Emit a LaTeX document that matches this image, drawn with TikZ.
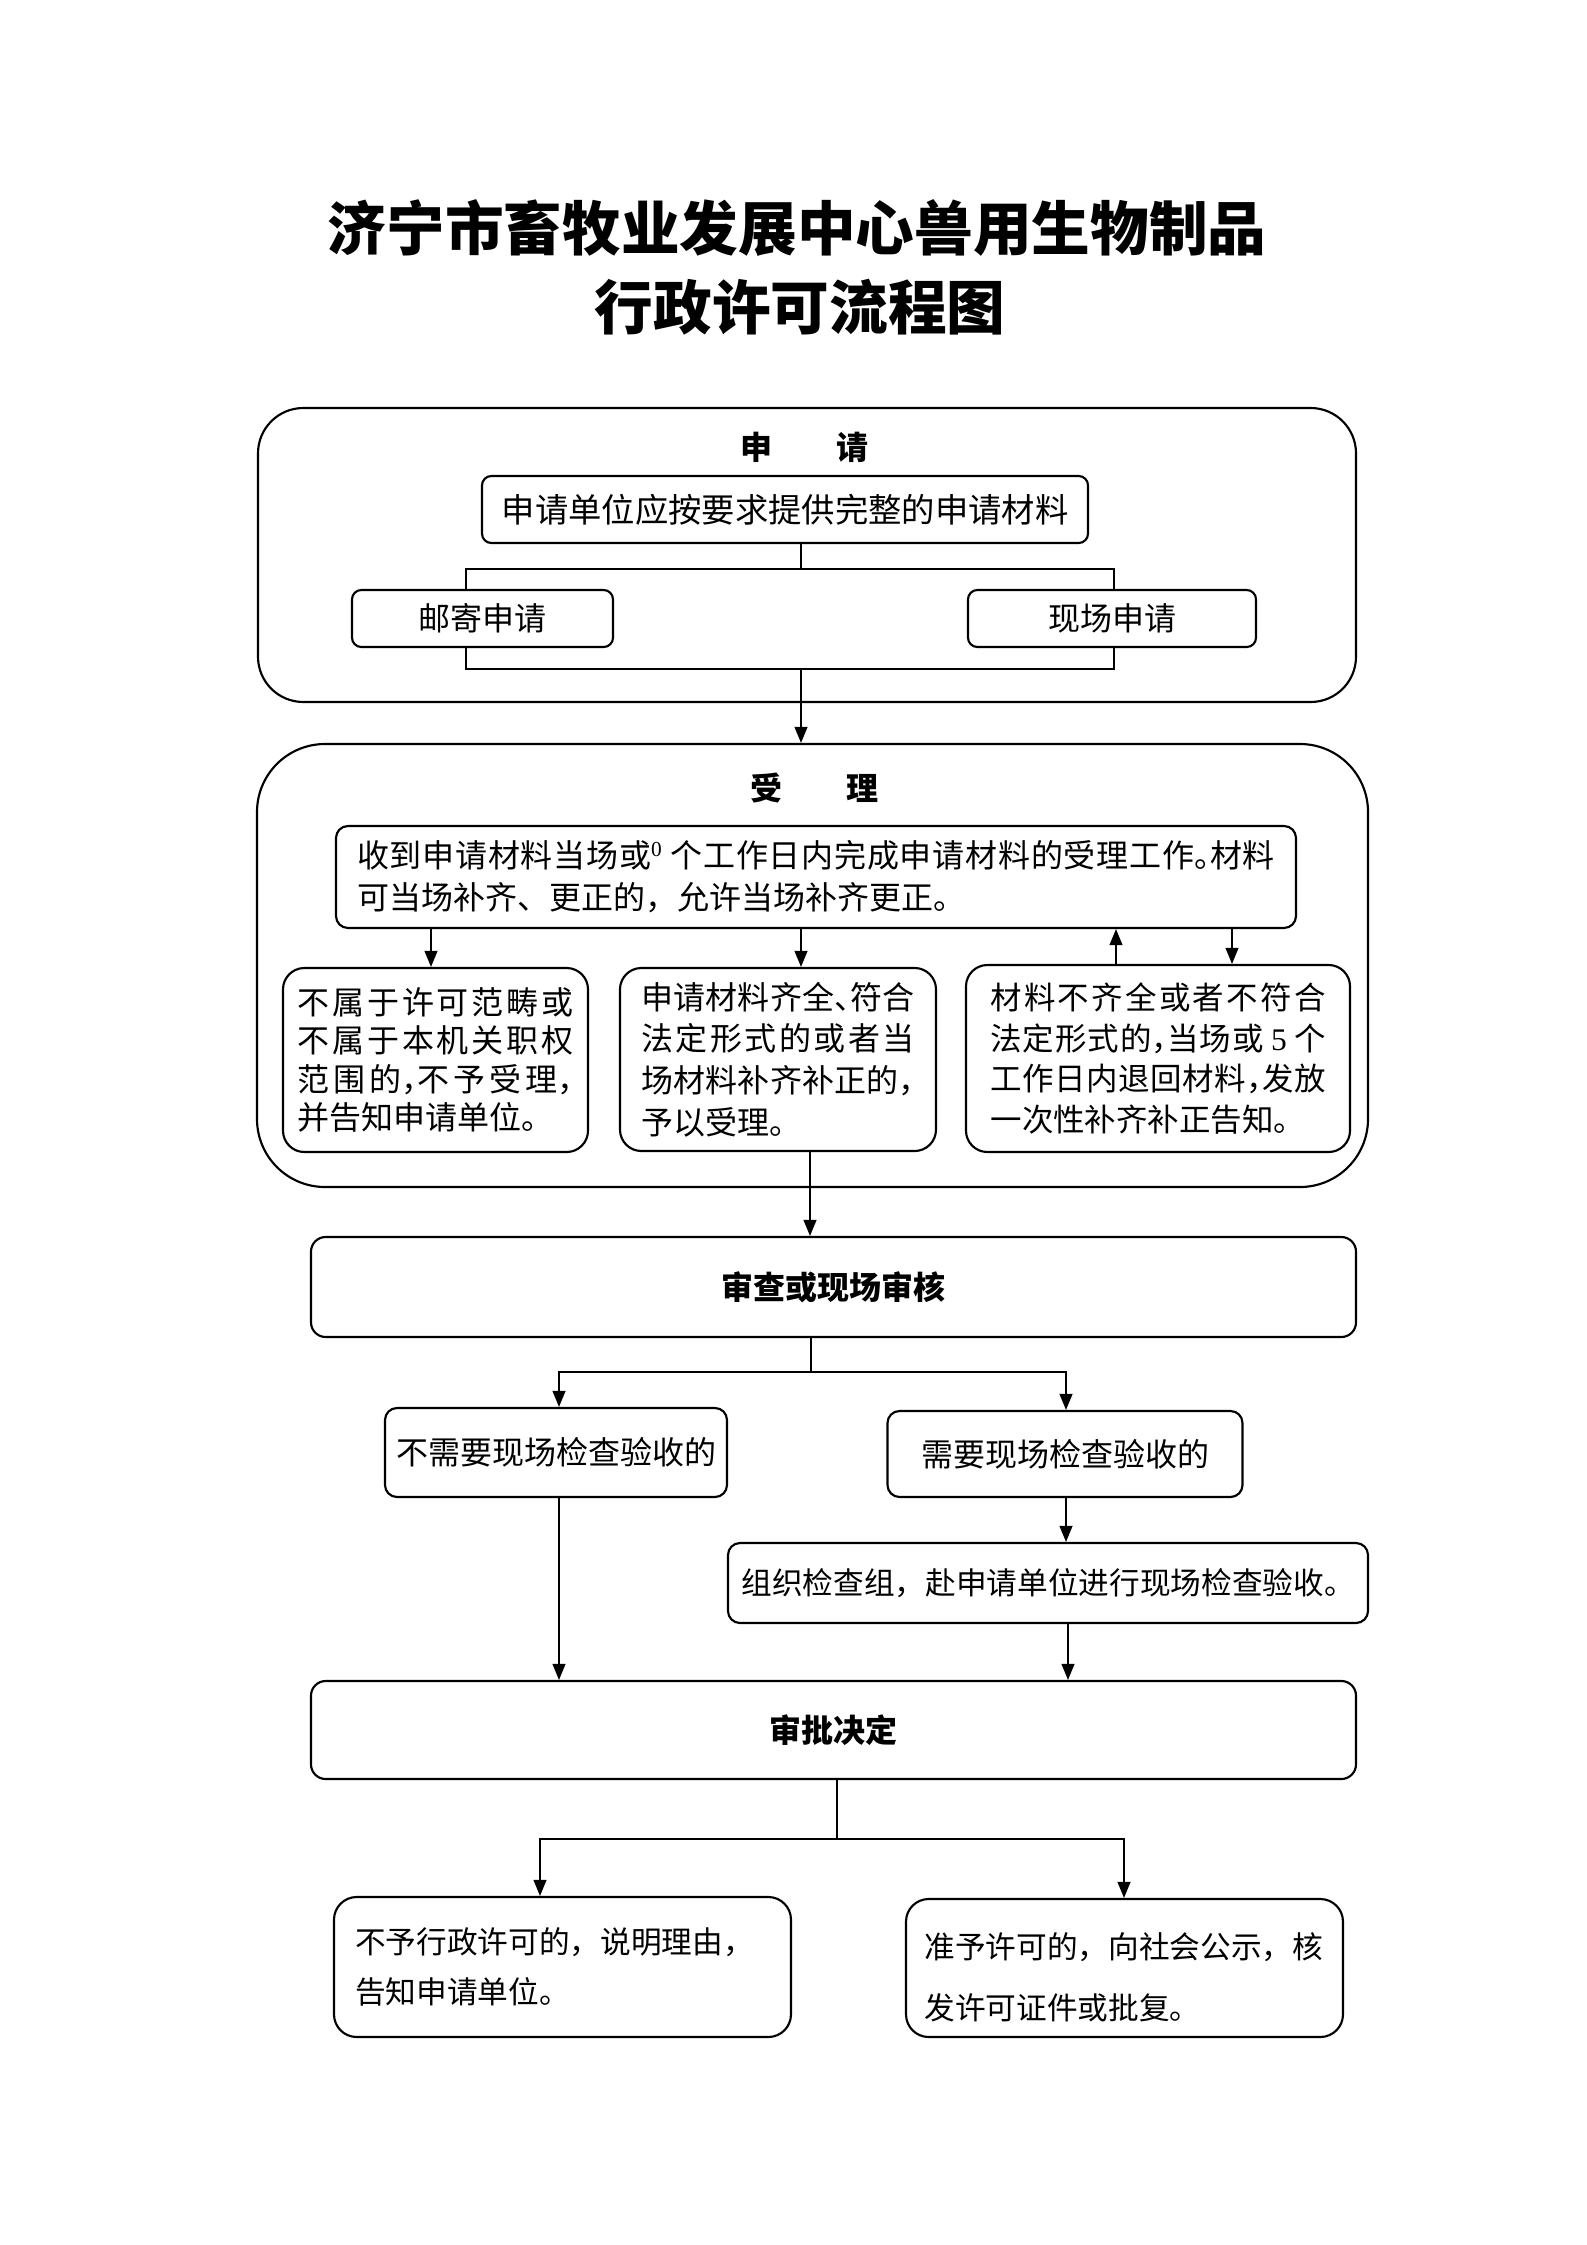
\documentclass[tikz,border=0pt]{standalone}
\usepackage{fontspec}
\setmainfont{Noto Sans CJK SC}
\newfontfamily\latin{Liberation Serif}
\usetikzlibrary{arrows.meta}
\newcommand\jzh{\XeTeXlinebreaklocale "zh"\XeTeXlinebreakskip=0pt plus 8pt\relax}
\newcommand\hc[1]{\makebox[0.5em][l]{#1}}
\begin{document}
\begin{tikzpicture}[x=0.375pt,y=-0.375pt,
  box/.style={draw, line width=0.8pt, fill=white, inner sep=0pt, rounded corners=#1},
  box/.default=3.5pt,
  sz/.style 2 args={minimum width=#1*0.375pt, minimum height=#2*0.375pt},
  arr/.style={line width=0.6pt, -{Triangle[length=6pt,width=4.8pt]}},
  ln/.style={line width=0.6pt},
  f12/.style={font=\fontsize{12}{15}\selectfont},
  hd/.style={font=\bfseries\fontsize{12}{15}\selectfont},
  ttl/.style={font=\bfseries\fontsize{22}{26}\selectfont}
]
\useasboundingbox (0,0) rectangle (1587,2245);

% title
\node[ttl] (t1) at (797,228) {济宁市畜牧业发展中心兽用生物制品};
\node[ttl] (t2) at (800,307) {行政许可流程图};

% ---------- apply group ----------
\node[box=17pt, sz={1098}{294}] (ob1) at (807,555) {};
\node[hd] (h1) at (804,447) {申　　请};
\coordinate (j1) at (801,569);
\coordinate (bl) at (466,569);
\coordinate (br) at (1114,669);
\coordinate (j2) at (801,669);
\draw[line width=0.75pt] (bl) rectangle (br);
\node[box, sz={606}{67}, font=\fontsize{12.5}{15}\selectfont] (a1) at (785,509.5) {申请单位应按要求提供完整的申请材料};
\node[box, sz={261}{57}, f12] (mail) at (482.5,618.5) {邮寄申请};
\node[box, sz={288}{57}, f12] (site) at (1112,618.5) {现场申请};
\draw[ln] (a1.south -| j1) -- (j1);

% ---------- accept group ----------
\node[box=25.5pt, sz={1111}{443}] (ob2) at (812.5,965.5) {};
\draw[arr] (j2) -- (j2 |- ob2.north);
\node[hd] (h2) at (814,788) {受　　理};
\node[box=4.5pt, sz={960}{102}, font={\fontsize{12}{15.75}\selectfont\jzh}, align=justify, text width=344.25pt] (b1) at (816,877)
 {收到申请材料当场或{\latin\textsuperscript{0}} 个工作日内完成申请材料的受理工作\hc{。}材料\linebreak 可当场补齐、更正的，允许当场补齐更正。};
\node[box=8pt, sz={305}{184}, font={\fontsize{12}{14.3}\selectfont\jzh}, align=justify, text width=103.5pt] (b2) at (435.5,1060)
 {不属于许可范畴或\linebreak 不属于本机关职权\linebreak 范围的\hc{，}不予受理\hc{，}\linebreak 并告知申请单位。};
\node[box=8pt, sz={316}{183}, font={\fontsize{12}{15.6}\selectfont\jzh}, align=justify, text width=102.5pt] (b3) at (778,1059.5)
 {申请材料齐全\hc{、}符合\linebreak 法定形式的或者当\linebreak 场材料补齐补正的\hc{，}\linebreak 予以受理。};
\node[box=8pt, sz={384}{187}, font={\fontsize{11.8}{15.25}\selectfont\jzh}, align=justify, text width=125.6pt] (b4) at (1158,1058.5)
 {材料不齐全或者不符合\linebreak 法定形式的\hc{，}当场或 {\latin 5} 个\linebreak 工作日内退回材料\hc{，}发放\linebreak 一次性补齐补正告知。};

\coordinate (xa) at (431,0);
\coordinate (xb) at (801,0);
\coordinate (xu) at (1116,0);
\coordinate (xd) at (1232,0);
\coordinate (xm) at (810,0);
\draw[arr] (b1.south -| xa) -- (b2.north -| xa);
\draw[arr] (b1.south -| xb) -- (b3.north -| xb);
\draw[arr] (b4.north -| xu) -- (b1.south -| xu);
\draw[arr] (b1.south -| xd) -- (b4.north -| xd);

% ---------- review ----------
\node[box=5.5pt, sz={1045}{100}, hd] (c1) at (833.5,1287) {审查或现场审核};
\draw[arr] (b3.south -| xm) -- (c1.north -| xm);
\coordinate (j3) at (811,1372);
\coordinate (xl) at (559,0);
\coordinate (xr) at (1066,0);
\node[box=4.5pt, sz={342}{89}, f12] (d1) at (556,1452.5) {不需要现场检查验收的};
\node[box=4.5pt, sz={355}{86}, f12] (d2) at (1065,1454) {需要现场检查验收的};
\draw[ln] (c1.south -| j3) -- (j3);
\draw[arr] (j3) -| (d1.north -| xl);
\draw[arr] (j3) -| (d2.north -| xr);
\node[box=4.5pt, sz={640}{80}, font=\fontsize{11.5}{14}\selectfont] (e1) at (1048,1583) {组织检查组，赴申请单位进行现场检查验收。};
\draw[arr] (d2.south -| xr) -- (e1.north -| xr);

% ---------- decision ----------
\node[box=5.5pt, sz={1045}{98}, hd] (f1) at (833.5,1730) {审批决定};
\coordinate (xr2) at (1068,0);
\draw[arr] (d1.south -| xl) -- (f1.north -| xl);
\draw[arr] (e1.south -| xr2) -- (f1.north -| xr2);
\coordinate (j4) at (837,1839);
\coordinate (xg) at (540,0);
\coordinate (xh) at (1124,0);
\draw[ln] (f1.south -| j4) -- (j4);
\node[box=8.5pt, sz={457}{140}, font=\fontsize{11.5}{19}\selectfont, align=left, text width=155.6pt] (g1) at (562.5,1967)
 {不予行政许可的，说明理由，\\告知申请单位。};
\node[box=8.5pt, sz={437}{138}] (g2) at (1124.5,1968) {};
\node[font=\fontsize{11.5}{22.9}\selectfont, align=left, text width=150pt, inner sep=0pt] (g2t) at (1124.5,1977.5)
 {准予许可的，向社会公示，核\\发许可证件或批复。};
\draw[arr] (j4) -| (g1.north -| xg);
\draw[arr] (j4) -| (g2.north -| xh);
\end{tikzpicture}
\end{document}
